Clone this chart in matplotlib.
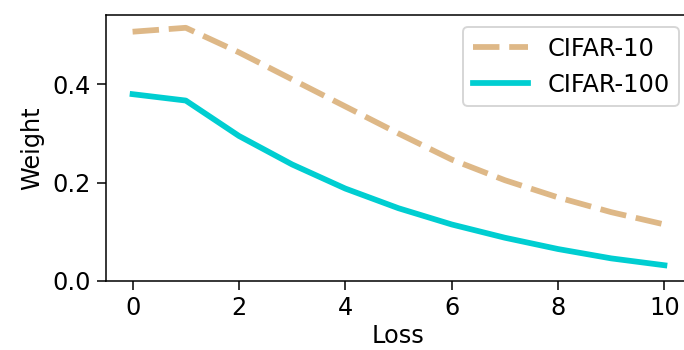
import numpy as np
import matplotlib.pyplot as plt

loss = [0, 1, 2, 3, 4, 5, 6, 7, 8, 9, 10]
w_cifar10 = [0.507, 0.515, 0.465, 0.410, 0.355, 0.300, 0.247, 0.205, 0.170, 0.140, 0.115]
w_cifar100 = [0.380, 0.367, 0.295, 0.237, 0.188, 0.148, 0.115, 0.088, 0.065, 0.046, 0.032]

plt.rcParams['font.size'] = 12.5

# figure drawn at a higher dpi so text and lines come out larger
dpi = 138
fig = plt.figure(figsize=(684/dpi, 350/dpi), dpi=dpi)
ax = fig.add_axes([106/684, 69/350, 585/684, 266/350])

ax.plot(loss, w_cifar10, color='burlywood', linewidth=3, dashes=(4.6, 1.7), label='CIFAR-10')
ax.plot(loss, w_cifar100, color='darkturquoise', linewidth=3, label='CIFAR-100')

ax.set_xlim(-0.5, 10.5)
ax.set_ylim(0, 0.541)
ax.set_xticks([0, 2, 4, 6, 8, 10])
ax.set_yticks([0.0, 0.2, 0.4])
ax.tick_params(length=4.5)
ax.set_xlabel('Loss', labelpad=2)
ax.set_ylabel('Weight')
ax.legend(loc='upper right', handlelength=2.3)

plt.savefig('out.png', dpi=dpi)
